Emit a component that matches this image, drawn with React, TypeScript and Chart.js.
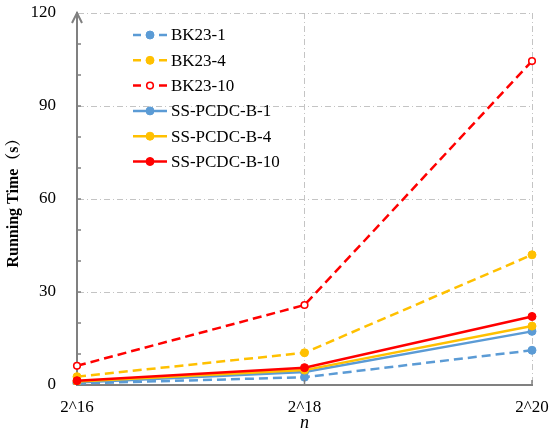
import React, { useEffect, useRef } from "react";
import { Chart, registerables, Plugin } from "chart.js";

Chart.register(...registerables);

// problem sizes on the x axis
const sizes = ["2^16", "2^18", "2^20"];

// running time in seconds
const bk23_1 = [0.5, 2.5, 11.2];
const bk23_4 = [2.7, 10.4, 42];
const bk23_10 = [6.2, 25.8, 104.5];
const ss_1 = [0.8, 4.2, 17.3];
const ss_4 = [1.1, 4.8, 19];
const ss_10 = [1.4, 5.6, 22.1];

const yMax = 120;
const yLabelStep = 30;

const BLUE = "#5B9BD5";
const ORANGE = "#FFC000";
const RED = "#FF0000";
const AXIS = "#808080";
const GRID = "#c4c4c4";
const FONT = "'Liberation Serif', 'Times New Roman', 'Noto Serif CJK SC', serif";

const DASH = [9, 5];

// legend drawn inside the plot, one row per dataset
const inlineLegend: Plugin = {
  id: "inlineLegend",
  afterDraw(chart) {
    const { ctx, chartArea } = chart;
    const x0 = chartArea.left + 56;
    chart.data.datasets.forEach((ds: any, i: number) => {
      const y = chartArea.top + 22 + i * 25.3;
      ctx.save();
      ctx.strokeStyle = ds.borderColor;
      ctx.lineWidth = ds.borderWidth;
      ctx.setLineDash(ds.borderDash ? [8, 5] : []);
      ctx.beginPath();
      ctx.moveTo(x0, y);
      ctx.lineTo(x0 + 34, y);
      ctx.stroke();
      ctx.setLineDash([]);
      ctx.beginPath();
      ctx.arc(x0 + 17, y, ds.pointRadius, 0, Math.PI * 2);
      ctx.fillStyle = ds.pointBackgroundColor;
      ctx.fill();
      ctx.lineWidth = ds.pointBorderWidth;
      ctx.strokeStyle = ds.pointBorderColor;
      ctx.stroke();
      ctx.fillStyle = "#000";
      ctx.font = `17px ${FONT}`;
      ctx.textAlign = "left";
      ctx.textBaseline = "middle";
      ctx.fillText(ds.label, x0 + 38, y + 1);
      ctx.restore();
    });
  },
};

// arrow on the y axis and short inward ticks
const axisDecor: Plugin = {
  id: "axisDecor",
  afterDraw(chart) {
    const { ctx, chartArea, scales } = chart;
    const x0 = chartArea.left;
    const top = scales.y.getPixelForValue(yMax);
    ctx.save();
    ctx.strokeStyle = AXIS;
    ctx.lineWidth = 2;
    ctx.beginPath();
    ctx.moveTo(x0 - 5, top + 10);
    ctx.lineTo(x0, top);
    ctx.lineTo(x0 + 5, top + 10);
    ctx.stroke();
    ctx.lineWidth = 1.5;
    ctx.beginPath();
    for (let v = 10; v < yMax; v += 10) {
      const y = scales.y.getPixelForValue(v);
      ctx.moveTo(x0, y);
      ctx.lineTo(x0 + 4, y);
    }
    for (let i = 1; i < sizes.length; i++) {
      const x = scales.x.getPixelForValue(i);
      ctx.moveTo(x, chartArea.bottom);
      ctx.lineTo(x, chartArea.bottom - 5);
    }
    ctx.stroke();
    ctx.restore();
  },
};

function series(label: string, data: number[], color: string, dashed: boolean, open = false, order = 0) {
  return {
    label,
    data,
    borderColor: color,
    backgroundColor: color,
    borderWidth: 2.5,
    borderDash: dashed ? DASH : undefined,
    pointRadius: open ? 3.3 : 4,
    pointBackgroundColor: open ? "#fff" : color,
    pointBorderColor: color,
    pointBorderWidth: open ? 1.6 : 1,
    tension: 0,
    order,
  };
}

const App: React.FC = () => {
  const canvasRef = useRef<HTMLCanvasElement>(null);
  const chartRef = useRef<Chart | null>(null);

  useEffect(() => {
    if (!canvasRef.current) return;
    chartRef.current = new Chart(canvasRef.current, {
      type: "line",
      data: {
        labels: sizes,
        datasets: [
          series("BK23-1", bk23_1, BLUE, true, false, 6),
          series("BK23-4", bk23_4, ORANGE, true, false, 5),
          series("BK23-10", bk23_10, RED, true, true, 4),
          series("SS-PCDC-B-1", ss_1, BLUE, false, false, 3),
          series("SS-PCDC-B-4", ss_4, ORANGE, false, false, 2),
          series("SS-PCDC-B-10", ss_10, RED, false, false, 1),
        ] as any,
      },
      options: {
        responsive: true,
        maintainAspectRatio: false,
        animation: false,
        layout: { padding: { top: 13, right: 18, left: 0, bottom: 0 } },
        plugins: {
          legend: { display: false },
          tooltip: { enabled: false },
        },
        scales: {
          x: {
            type: "category",
            offset: false,
            afterFit: (s: any) => {
              s.height = 49;
              s.paddingLeft = 0;
              s.paddingRight = 0;
            },
            grid: {
              color: (c: any) => (c.index === 0 ? "transparent" : GRID),
              lineWidth: 1,
              drawTicks: false,
            },
            border: { display: true, color: AXIS, width: 2, dash: [6, 3, 1, 3] },
            ticks: {
              color: "#000",
              font: { family: FONT, size: 17 },
              padding: 12,
              maxRotation: 0,
              autoSkip: false,
            },
            title: {
              display: true,
              text: "n",
              color: "#000",
              font: { family: FONT, size: 18, style: "italic" },
              padding: { top: 0, bottom: 0 },
            },
          },
          y: {
            type: "linear",
            min: 0,
            max: yMax,
            afterFit: (s: any) => {
              s.width = 77;
              s.paddingTop = 0;
              s.paddingBottom = 0;
            },
            grid: {
              color: (c: any) =>
                c.tick && c.tick.value !== 0 && c.tick.value % yLabelStep === 0 ? GRID : "transparent",
              lineWidth: 1,
              drawTicks: false,
            },
            border: { display: true, color: AXIS, width: 2, dash: [6, 3, 1, 3] },
            ticks: {
              stepSize: 10,
              autoSkip: false,
              color: "#000",
              font: { family: FONT, size: 17 },
              padding: 21,
              callback: (v: any) => (Number(v) % yLabelStep === 0 ? String(v) : ""),
            },
            title: {
              display: true,
              text: "Running Time（s）",
              color: "#000",
              font: { family: FONT, size: 16, weight: "bold" },
              padding: { top: 4, bottom: 0 },
            },
          },
        },
      },
      plugins: [axisDecor, inlineLegend],
    });
    return () => {
      chartRef.current?.destroy();
      chartRef.current = null;
    };
  }, []);

  return (
    <div style={{ position: "fixed", left: 0, top: 0, width: 550, height: 434, background: "#fff" }}>
      <canvas ref={canvasRef}></canvas>
    </div>
  );
};

export default App;
